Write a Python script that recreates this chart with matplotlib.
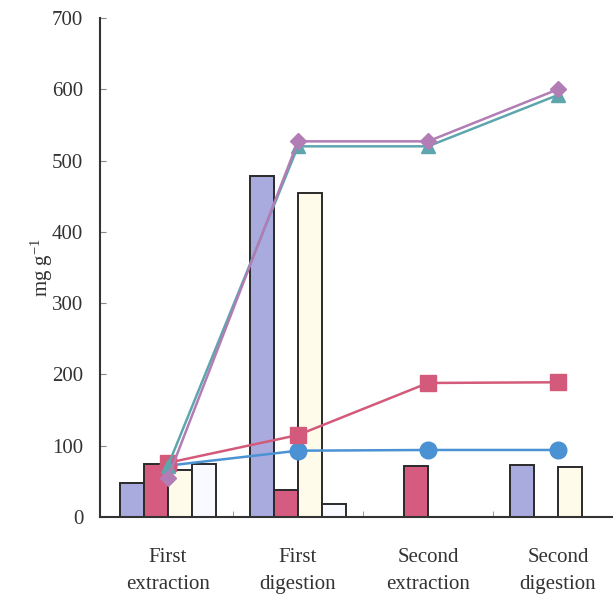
import matplotlib
matplotlib.use("Agg")
import matplotlib.pyplot as plt
import numpy as np

plt.rcParams['font.family'] = ['Liberation Serif', 'DejaVu Serif']
plt.rcParams['mathtext.fontset'] = 'custom'
plt.rcParams['mathtext.rm'] = 'Liberation Serif'
plt.rcParams['mathtext.it'] = 'Liberation Serif:italic'

categories = ["First\nextraction", "First\ndigestion", "Second\nextraction", "Second\ndigestion"]

bar_blue = [48, 478, 0, 73]
bar_pink = [75, 38, 72, 0]
bar_cream = [66, 455, 0, 70]
bar_white = [75, 18, 0, 0]

line_diamond = [55, 527, 527, 600]
line_triangle = [72, 520, 520, 592]
line_square = [76, 115, 188, 189]
line_circle = [72, 93, 94, 94]

fig = plt.figure(figsize=(6.15, 6.01), dpi=100)
ax = fig.add_axes([0.1626, 0.1398, 0.8324, 0.8302])

x = np.arange(len(categories))
w = 0.185
bar_sets = [
    (bar_blue, "#a9abdf"),
    (bar_pink, "#d65b80"),
    (bar_cream, "#fffbea"),
    (bar_white, "#f8faff"),
]
for i, (vals, col) in enumerate(bar_sets):
    ax.bar(x + (i - 1.5) * w, vals, width=w, color=col, edgecolor="#2a2a2a",
           linewidth=1.4, zorder=2)

ax.plot(x, line_circle, color="#4a92d4", marker="o", markersize=12, lw=1.8, zorder=3)
ax.plot(x, line_square, color="#d35a7a", marker="s", markersize=11, lw=1.8, zorder=3)
ax.plot(x, line_triangle, color="#5ea6ae", marker="^", markersize=10, lw=1.8, zorder=4)
ax.plot(x, line_diamond, color="#b27db4", marker="D", markersize=8, lw=1.8, zorder=4)

ax.set_xlim(-0.523, 3.415)
ax.set_ylim(0, 700)
ax.set_yticks(range(0, 701, 100))
ax.set_xticks(x)
ax.set_xticklabels(categories, fontsize=15, color="#333333", linespacing=1.6)
ax.tick_params(axis='x', length=0, pad=22)
ax.tick_params(axis='y', direction='in', length=4, width=0.8, labelsize=15,
               labelcolor="#333333", color="#888888", pad=12)
ax.set_xticks([0.5, 1.5, 2.5], minor=True)
ax.tick_params(axis='x', which='minor', direction='in', length=4, color="#888888")

for s in ["top", "right"]:
    ax.spines[s].set_visible(False)
for s in ["left", "bottom"]:
    ax.spines[s].set_color("#333333")
    ax.spines[s].set_linewidth(1.5)

ax.set_ylabel("mg g$^{\\mathregular{-1}}$", fontsize=15, color="#333333", labelpad=-2)

fig.savefig("out.png", dpi=100)
